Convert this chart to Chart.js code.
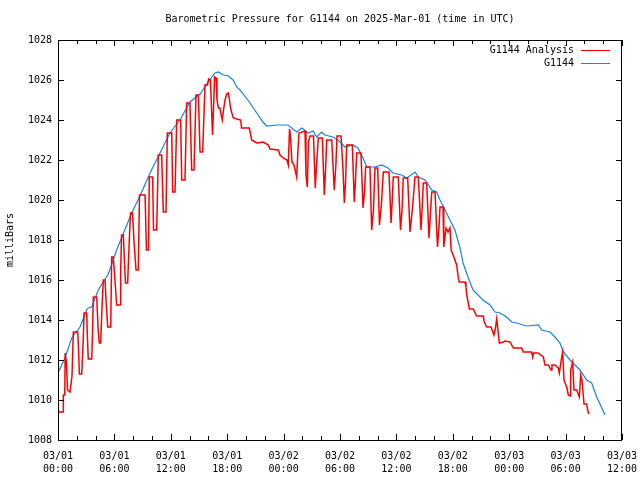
<!DOCTYPE html>
<html>
<head>
<meta charset="utf-8">
<title>Barometric Pressure for G1144</title>
<script src="https://cdn.jsdelivr.net/npm/chart.js@4.4.1/dist/chart.umd.min.js"></script>
<style>
  html, body { margin: 0; padding: 0; background: #fff; }
  #wrap { width: 640px; height: 480px; }
</style>
</head>
<body>
<div id="wrap"><canvas id="chart" width="640" height="480"></canvas></div>
<script>
/* ---- data (hours since 03/01 00:00 UTC, millibars) ---- */
const chartTitle = 'Barometric Pressure for G1144 on 2025-Mar-01 (time in UTC)';
const yAxisTitle = 'milliBars';
const seriesNames = ['G1144 Analysis', 'G1144'];

const tickDays  = ['03/01', '03/01', '03/01', '03/01', '03/02', '03/02', '03/02', '03/02', '03/03', '03/03', '03/03'];
const tickTimes = ['00:00', '06:00', '12:00', '18:00', '00:00', '06:00', '12:00', '18:00', '00:00', '06:00', '12:00'];

const analysisHours = [
  0.00, 0.11, 0.55, 0.57, 0.72, 0.76, 0.90, 1.01, 1.28, 1.49, 1.63, 2.10, 2.18, 2.27, 2.52, 2.66, 2.77, 3.05, 3.14, 3.22,
  3.59, 3.67, 3.76, 4.12, 4.26, 4.39, 4.54, 4.68, 4.82, 5.00, 5.16, 5.29, 5.61, 5.71, 5.88, 6.06, 6.24, 6.60, 6.67, 6.76,
  6.95, 7.07, 7.18, 7.41, 7.55, 7.71, 7.93, 8.09, 8.30, 8.54, 8.67, 9.26, 9.41, 9.63, 9.71, 10.07, 10.16, 10.50, 10.67, 11.03,
  11.20, 11.49, 11.63, 12.10, 12.20, 12.45, 12.63, 13.05, 13.16, 13.51, 13.69, 14.04, 14.22, 14.47, 14.68, 14.93, 15.11, 15.39, 15.64, 15.90,
  16.03, 16.22, 16.44, 16.54, 16.65, 16.81, 16.91, 17.07, 17.23, 17.34, 17.48, 17.61, 17.77, 17.95, 18.12, 18.24, 18.40, 18.65, 19.01, 19.44,
  19.52, 20.35, 20.61, 21.14, 21.84, 22.37, 22.55, 23.44, 23.62, 23.97, 24.36, 24.50, 24.63, 24.73, 24.89, 25.11, 25.39, 25.53, 25.64, 26.28,
  26.38, 26.52, 26.65, 26.81, 27.18, 27.37, 27.50, 27.69, 28.12, 28.33, 28.46, 28.59, 29.12, 29.39, 29.57, 29.68, 30.11, 30.32, 30.46, 30.59,
  30.71, 31.31, 31.52, 31.65, 31.78, 32.23, 32.45, 32.61, 32.73, 33.19, 33.37, 33.56, 33.72, 34.01, 34.20, 34.41, 34.61, 35.21, 35.43, 35.56,
  35.67, 36.20, 36.44, 36.60, 36.73, 37.20, 37.45, 37.71, 37.98, 38.33, 38.62, 38.76, 38.86, 39.22, 39.47, 39.63, 39.76, 40.11, 40.37, 40.53,
  40.64, 40.96, 41.04, 41.28, 41.49, 41.70, 41.83, 42.23, 42.41, 42.59, 42.69, 43.30, 43.40, 43.48, 43.65, 43.76, 44.18, 44.54, 45.24, 45.35,
  45.61, 46.06, 46.38, 46.54, 46.67, 46.76, 46.95, 47.37, 47.55, 48.09, 48.44, 49.33, 49.50, 50.39, 50.50, 50.59, 51.06, 51.63, 51.81, 52.16,
  52.45, 52.55, 52.87, 53.22, 53.33, 53.59, 53.69, 53.83, 54.12, 54.29, 54.47, 54.54, 54.75, 54.89, 55.18, 55.46, 55.61, 55.74, 55.88, 55.96,
  56.24, 56.35, 56.46
];
const analysisMb = [
  1009.55, 1009.40, 1009.40, 1010.25, 1010.25, 1012.35, 1011.90, 1010.50, 1010.40, 1011.20, 1013.40, 1013.40, 1012.60, 1011.30, 1011.30, 1012.70, 1014.35, 1014.35, 1013.00, 1012.05,
  1012.05, 1013.30, 1015.15, 1015.15, 1013.60, 1012.85, 1012.85, 1014.60, 1016.00, 1016.00, 1014.60, 1013.65, 1013.65, 1017.15, 1017.15, 1016.00, 1014.75, 1014.75, 1016.50, 1018.25,
  1018.25, 1016.90, 1015.85, 1015.85, 1017.60, 1019.35, 1019.35, 1017.90, 1016.50, 1016.50, 1020.25, 1020.25, 1017.50, 1017.50, 1021.15, 1021.15, 1018.50, 1018.50, 1022.25, 1022.25,
  1019.40, 1019.40, 1023.35, 1023.35, 1020.40, 1020.40, 1024.00, 1024.00, 1021.00, 1021.00, 1024.85, 1024.85, 1021.50, 1021.50, 1025.25, 1025.25, 1022.40, 1022.40, 1025.75, 1025.75,
  1026.05, 1026.00, 1023.25, 1024.50, 1026.15, 1026.10, 1025.00, 1024.60, 1024.60, 1024.30, 1024.00, 1024.50, 1025.00, 1025.30, 1025.35, 1025.00, 1024.50, 1024.10, 1024.05, 1024.00,
  1023.60, 1023.60, 1023.00, 1022.85, 1022.90, 1022.75, 1022.55, 1022.50, 1022.25, 1022.10, 1022.00, 1021.75, 1023.55, 1023.20, 1021.90, 1021.75, 1021.15, 1022.50, 1023.35, 1023.45,
  1021.25, 1020.65, 1022.90, 1023.20, 1023.20, 1020.60, 1021.70, 1023.10, 1023.10, 1020.25, 1021.50, 1023.00, 1023.00, 1020.50, 1021.80, 1023.20, 1023.20, 1021.50, 1019.85, 1020.90,
  1022.75, 1022.75, 1019.90, 1021.00, 1022.35, 1022.35, 1019.60, 1020.40, 1021.65, 1021.65, 1018.50, 1019.50, 1021.60, 1021.60, 1018.75, 1019.80, 1021.40, 1021.40, 1018.85, 1020.00,
  1021.15, 1021.15, 1018.50, 1019.50, 1021.10, 1021.10, 1018.40, 1019.60, 1021.15, 1021.15, 1018.50, 1019.80, 1020.85, 1020.85, 1018.10, 1019.40, 1020.40, 1020.40, 1017.65, 1018.60,
  1019.65, 1019.65, 1017.65, 1018.60, 1018.40, 1018.60, 1017.50, 1017.00, 1016.75, 1016.10, 1015.90, 1015.90, 1015.65, 1015.25, 1014.85, 1014.55, 1014.55, 1014.20, 1014.20, 1013.90,
  1013.65, 1013.65, 1013.25, 1013.60, 1014.05, 1013.70, 1012.85, 1012.90, 1012.95, 1012.90, 1012.60, 1012.60, 1012.40, 1012.40, 1012.15, 1012.35, 1012.35, 1012.15, 1011.75, 1011.75,
  1011.50, 1011.75, 1011.75, 1011.60, 1011.35, 1012.15, 1012.40, 1011.00, 1010.65, 1010.25, 1010.20, 1011.50, 1011.90, 1010.50, 1010.50, 1010.15, 1011.25, 1011.00, 1010.25, 1009.80,
  1009.80, 1009.50, 1009.30
];

const stationHours = [
  0.00, 0.74, 1.46, 2.34, 3.05, 3.22, 3.59, 4.29, 5.35, 6.24, 7.02, 7.84, 8.72, 9.79, 10.85, 11.91, 12.98, 14.04, 15.11, 15.82,
  16.70, 17.05, 17.59, 18.12, 18.62, 19.01, 19.36, 20.43, 21.14, 21.81, 22.20, 23.27, 24.47, 25.39, 25.93, 26.63, 27.13, 27.52, 28.05, 28.40,
  29.26, 29.79, 30.53, 31.38, 31.91, 32.45, 32.84, 33.72, 34.44, 35.11, 35.64, 36.56, 37.10, 37.98, 38.33, 39.04, 39.76, 40.29, 40.64, 41.17,
  41.70, 42.23, 42.77, 43.09, 43.62, 44.15, 44.68, 45.21, 45.96, 46.49, 47.02, 47.73, 48.27, 48.80, 49.86, 51.10, 51.46, 52.34, 52.87, 53.40,
  53.76, 54.47, 55.53, 56.24, 56.77, 57.31, 58.19
];
const stationMb = [
  1011.35, 1012.10, 1013.10, 1013.65, 1014.50, 1014.60, 1014.65, 1015.50, 1016.30, 1017.50, 1018.40, 1019.35, 1020.20, 1021.35, 1022.35, 1023.35, 1024.00, 1024.90, 1025.30, 1025.80,
  1026.35, 1026.40, 1026.25, 1026.20, 1026.00, 1025.65, 1025.50, 1024.85, 1024.35, 1023.90, 1023.70, 1023.75, 1023.75, 1023.40, 1023.60, 1023.35, 1023.45, 1023.15, 1023.40, 1023.25,
  1023.15, 1023.00, 1022.65, 1022.75, 1022.60, 1022.10, 1021.65, 1021.65, 1021.75, 1021.60, 1021.35, 1021.25, 1021.10, 1021.40, 1021.15, 1021.00, 1020.50, 1020.40, 1020.00, 1019.50,
  1019.00, 1018.50, 1017.60, 1016.85, 1016.15, 1015.50, 1015.25, 1015.00, 1014.75, 1014.40, 1014.35, 1014.15, 1013.90, 1013.85, 1013.70, 1013.75, 1013.50, 1013.40, 1013.15, 1012.85,
  1012.40, 1012.00, 1011.50, 1011.00, 1010.85, 1010.15, 1009.25
];

const MONO = "'DejaVu Sans Mono', 'Liberation Mono', monospace";
Chart.defaults.font.family = MONO;
Chart.defaults.font.size = 10;
Chart.defaults.color = '#000';

const toPoints = (xs, ys) => xs.map((x, i) => ({ x, y: ys[i] }));

// gnuplot-style frame: box, inward ticks on all four sides, title, legend
const gnuplotFrame = {
  id: 'gnuplotFrame',
  afterDraw(chart) {
    const { ctx, chartArea: a, scales } = chart;
    const xs = scales.x, ys = scales.y;
    ctx.save();
    ctx.strokeStyle = '#000';
    ctx.lineWidth = 1;
    ctx.strokeRect(a.left + 0.5, a.top + 0.5, a.right - a.left - 1, a.bottom - a.top);

    ctx.beginPath();
    for (let v = ys.min; v <= ys.max; v += 2) {
      const y = Math.round(ys.getPixelForValue(v)) + 0.5;
      ctx.moveTo(a.left, y); ctx.lineTo(a.left + 6, y);
      ctx.moveTo(a.right, y); ctx.lineTo(a.right - 6, y);
    }
    for (let h = xs.min; h <= xs.max; h += 2) {
      const x = Math.round(xs.getPixelForValue(h)) + 0.5;
      const len = h % 6 === 0 ? 6 : 4;
      ctx.moveTo(x, a.bottom); ctx.lineTo(x, a.bottom - len);
      ctx.moveTo(x, a.top); ctx.lineTo(x, a.top + len);
    }
    ctx.stroke();

    ctx.fillStyle = '#000';
    ctx.font = '10px ' + MONO;
    ctx.textAlign = 'center';
    ctx.textBaseline = 'middle';
    ctx.fillText(chartTitle, (a.left + a.right) / 2, 19);

    // legend, top-right inside the plot
    ctx.textAlign = 'right';
    chart.data.datasets.forEach((ds, i) => {
      const y = a.top + 10 + i * 13;
      ctx.fillStyle = '#000';
      ctx.fillText(ds.label, a.right - 48, y);
      ctx.strokeStyle = ds.borderColor;
      ctx.lineWidth = 1;
      ctx.beginPath();
      ctx.moveTo(a.right - 41, y + 0.5);
      ctx.lineTo(a.right - 12, y + 0.5);
      ctx.stroke();
    });
    ctx.restore();
  }
};

new Chart(document.getElementById('chart'), {
  type: 'line',
  data: {
    datasets: [
      {
        label: seriesNames[0],
        data: toPoints(analysisHours, analysisMb),
        borderColor: '#ff0000',
        borderWidth: 1.5,
        pointRadius: 0,
        tension: 0,
      },
      {
        label: seriesNames[1],
        data: toPoints(stationHours, stationMb),
        borderColor: '#1482f0',
        borderWidth: 1.2,
        pointRadius: 0,
        tension: 0,
      },
    ],
  },
  options: {
    responsive: false,
    animation: false,
    parsing: false,
    layout: { padding: { top: 40, right: 18, left: 0, bottom: 0 } },
    plugins: {
      legend: { display: false },
      tooltip: { enabled: false },
    },
    scales: {
      x: {
        type: 'linear',
        min: 0,
        max: 60,
        grid: { display: false, drawTicks: false },
        border: { display: false },
        ticks: {
          stepSize: 6,
          autoSkip: false,
          maxRotation: 0,
          padding: 10,
          font: { size: 10, lineHeight: 1.3 },
          callback: (v) => {
            const i = Math.round(v / 6);
            return [tickDays[i], tickTimes[i]];
          },
        },
        afterFit: (scale) => {
          scale.height = 40;
          scale.paddingLeft = 0;
          scale.paddingRight = 0;
        },
      },
      y: {
        min: 1008,
        max: 1028,
        grid: { display: false, drawTicks: false },
        border: { display: false },
        ticks: {
          stepSize: 2,
          padding: 6,
          callback: (v) => String(v),
        },
        title: {
          display: true,
          text: yAxisTitle,
          font: { size: 10 },
          padding: { top: 4, bottom: 0 },
        },
        afterFit: (scale) => { scale.width = 58; },
      },
    },
  },
  plugins: [gnuplotFrame],
});
</script>
</body>
</html>
